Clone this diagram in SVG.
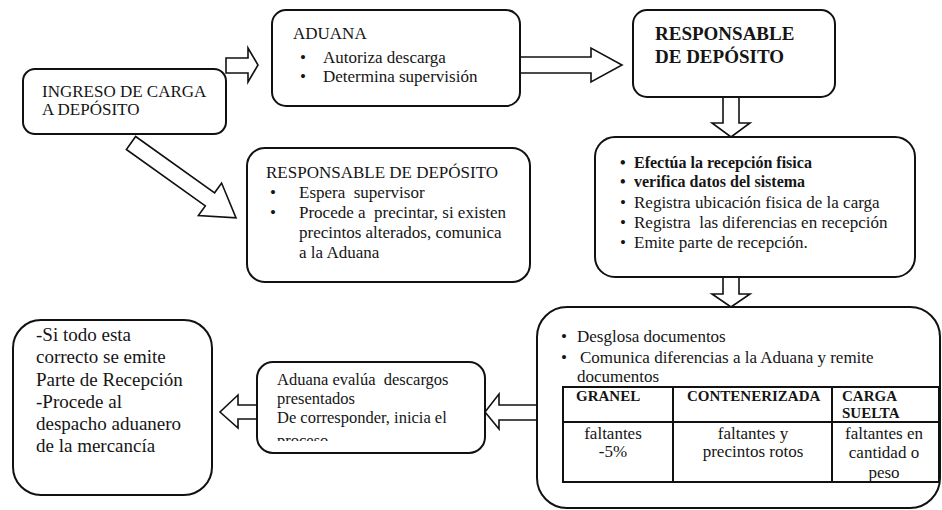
<svg xmlns="http://www.w3.org/2000/svg" width="942" height="510" viewBox="0 0 942 510">
<defs>
<style>
.box{fill:#fff;stroke:#111;stroke-width:2}
.arr{fill:#fff;stroke:#111;stroke-width:1.6;stroke-linejoin:miter}
text{font-family:"Liberation Serif","Times New Roman",serif;fill:#151515;white-space:pre}
.t17{font-size:17px}
.t16{font-size:16px}
.t19{font-size:19px}
.ev{font-size:16.5px}
.b{font-weight:bold}
.tbl{fill:none;stroke:#111;stroke-width:2}
</style>
<clipPath id="clipAd"><rect x="257" y="362" width="228" height="79"/></clipPath>
</defs>
<rect width="942" height="510" fill="#fff"/>

<g id="connectors">
<polygon class="arr" points="226,58 248,58 248,48 258,65 248,82 248,73 226,73"/>
<polygon class="arr" points="520,57 591,57 591,48 622,65 591,82 591,73 520,73"/>
<polygon class="arr" points="723,97 739,97 739,123 750,123 731,137 712,123 723,123"/>
<polygon class="arr" points="723,277 739,277 739,294 750,294 731,307 712,294 723,294"/>
<polygon class="arr" points="257,405 238,405 238,395 220,412 238,428 238,419 257,419"/>
<polygon class="arr" points="537,405 499,405 499,394 485,412 499,429 499,420 537,420"/>
<polygon class="arr" points="0,-8 97,-8 97,-20 129,0 97,20 97,8 0,8" transform="translate(131,143) rotate(35.5)"/>
</g>

<g id="ingreso">
<rect class="box" x="23" y="69" width="203" height="65" rx="12"/>
<text class="t17" x="42" y="97">INGRESO DE CARGA</text>
<text class="t17" x="42" y="115">A DEPÓSITO</text>
</g>

<g id="aduana">
<rect class="box" x="272" y="10" width="248" height="96" rx="14"/>
<text class="t17" x="293" y="39">ADUANA</text>
<text class="t17" x="300" y="63">•</text>
<text class="t17" x="323" y="63">Autoriza descarga</text>
<text class="t17" x="300" y="82">•</text>
<text class="t17" x="323" y="82">Determina supervisión</text>
</g>

<g id="responsable1">
<rect class="box" x="633" y="10" width="202" height="87" rx="14"/>
<text class="b" style="font-size:19px" x="655" y="40">RESPONSABLE</text>
<text class="b" style="font-size:19px" x="655" y="63">DE DEPÓSITO</text>
</g>

<g id="responsable2">
<rect class="box" x="247" y="148" width="283" height="134" rx="18"/>
<text class="t17" x="266" y="178">RESPONSABLE DE DEPÓSITO</text>
<text class="t17" x="270" y="198">•</text>
<text class="t17" x="299" y="198">Espera  supervisor</text>
<text class="t17" x="270" y="218">•</text>
<text class="t17" x="299" y="218">Procede a  precintar, si existen</text>
<text class="t17" x="299" y="238">precintos alterados, comunica</text>
<text class="t17" x="299" y="258">a la Aduana</text>
</g>

<g id="recepcion">
<rect class="box" x="595" y="137" width="320" height="140" rx="20"/>
<text class="t16 b" x="620" y="168">•</text>
<text class="t16 b" x="634" y="168">Efectúa la recepción fisica</text>
<text class="t16 b" x="620" y="187">•</text>
<text class="t16 b" x="634" y="187">verifica datos del sistema</text>
<text class="t17" x="620" y="208">•</text>
<text class="t17" x="634" y="208">Registra ubicación fisica de la carga</text>
<text class="t17" x="620" y="228">•</text>
<text class="t17" x="634" y="228">Registra  las diferencias en recepción</text>
<text class="t17" x="620" y="248">•</text>
<text class="t17" x="634" y="248">Emite parte de recepción.</text>
</g>

<g id="desglosa">
<rect class="box" x="537" y="307" width="403" height="201" rx="30"/>
<text class="t17" x="561" y="342">•</text>
<text class="t17" x="577" y="342">Desglosa documentos</text>
<text class="t17" x="561" y="363">•</text>
<text class="t17" x="580" y="363">Comunica diferencias a la Aduana y remite</text>
<text class="t17" x="577" y="382">documentos</text>
<rect class="tbl" x="563" y="387" width="376" height="95"/>
<line class="tbl" x1="563" y1="422" x2="939" y2="422"/>
<line class="tbl" x1="673" y1="387" x2="673" y2="482"/>
<line class="tbl" x1="832" y1="387" x2="832" y2="482"/>
<text class="b" style="font-size:15px" x="576" y="401">GRANEL</text>
<text class="b" style="font-size:15px" x="687" y="401">CONTENERIZADA</text>
<text class="b" style="font-size:15px" x="842" y="401">CARGA</text>
<text class="b" style="font-size:15px" x="842" y="418">SUELTA</text>
<g class="t17" text-anchor="middle">
<text x="613" y="439">faltantes</text>
<text x="613" y="457">-5%</text>
<text x="753" y="439">faltantes y</text>
<text x="753" y="457">precintos rotos</text>
<text x="884" y="439">faltantes en</text>
<text x="884" y="458">cantidad o</text>
<text x="884" y="478">peso</text>
</g>
</g>

<g id="evalua">
<rect class="box" x="257" y="362" width="228" height="91" rx="16"/>
<g clip-path="url(#clipAd)">
<text class="ev" x="277" y="385">Aduana evalúa  descargos</text>
<text class="ev" x="277" y="404">presentados</text>
<text class="ev" x="277" y="423">De corresponder, inicia el</text>
<text class="ev" x="277" y="446">proceso</text>
</g>
</g>

<g id="final">
<rect class="box" x="13" y="320" width="199" height="175" rx="28"/>
<text class="t19" x="36" y="341">-Si todo esta</text>
<text class="t19" x="36" y="363">correcto se emite</text>
<text class="t19" x="36" y="386">Parte de Recepción</text>
<text class="t19" x="36" y="408">-Procede al</text>
<text class="t19" x="36" y="430">despacho aduanero</text>
<text class="t19" x="36" y="452">de la mercancía</text>
</g>
</svg>
